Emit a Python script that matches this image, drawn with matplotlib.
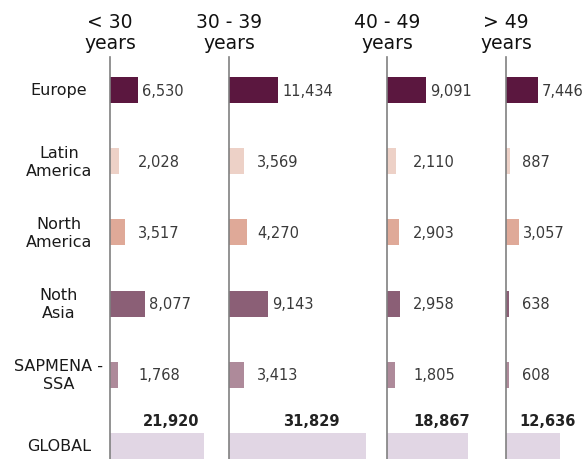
import matplotlib
matplotlib.use("Agg")
import matplotlib.pyplot as plt

plt.rcParams['font.family'] = ['DejaVu Sans']

age_groups = ["< 30\nyears", "30 - 39\nyears", "40 - 49\nyears", "> 49\nyears"]
regions = ["Europe", "Latin\nAmerica", "North\nAmerica", "Noth\nAsia", "SAPMENA -\nSSA"]
europe = [6530, 11434, 9091, 7446]
latin_america = [2028, 3569, 2110, 887]
north_america = [3517, 4270, 2903, 3057]
north_asia = [8077, 9143, 2958, 638]
sapmena_ssa = [1768, 3413, 1805, 608]
global_totals = [21920, 31829, 18867, 12636]

region_colors = ["#5b173f", "#edd1c7", "#dfa998", "#8b5f76", "#ae8a9a"]
global_color = "#e1d6e4"

W, H = 586, 460
fig = plt.figure(figsize=(W / 100, H / 100), dpi=100)

axis_px = [110, 229, 387, 506]
right_px = axis_px[1:] + [W]
top_px, bot_px = 58, 460
row0_px, row_step = 91, 71.2
units_per_px = 1 / 0.0043
min_off_px = [28, 28, 26, 16]

ymin = (top_px - row0_px) / row_step
ymax = (bot_px - row0_px) / row_step

series = [europe, latin_america, north_america, north_asia, sapmena_ssa]

for p in range(4):
    left = axis_px[p] / W
    width = (right_px[p] - axis_px[p]) / W
    ax = fig.add_axes([left, 1 - bot_px / H, width, (bot_px - top_px) / H])
    ax.set_xlim(0, (right_px[p] - axis_px[p]) * units_per_px)
    ax.set_ylim(ymax, ymin)
    ax.set_facecolor("none")
    for s in ["top", "right", "bottom"]:
        ax.spines[s].set_visible(False)
    ax.spines["left"].set_color("#808080")
    ax.spines["left"].set_linewidth(1.2)
    ax.set_xticks([])
    ax.set_yticks([])
    vals = [s[p] for s in series]
    ax.barh(range(5), vals, height=0.366, color=region_colors)
    for i, v in enumerate(vals):
        xl = max(v + 4 * units_per_px, min_off_px[p] * units_per_px)
        ax.text(xl, i, f"{v:,}", ha="left", va="center", fontsize=10.5, color="#3a3a3a")
    g = global_totals[p]
    ax.barh([5], [g], height=0.366, color=global_color, clip_on=False)
    ax.text(g / 2 + 14 * units_per_px, (421 - row0_px) / row_step, f"{g:,}",
            ha="center", va="center", fontsize=10.5, fontweight="bold", color="#222222")
    fig.text(axis_px[p] / W, 1 - 33 / H, age_groups[p], ha="center", va="center",
             fontsize=13.5, color="#111111", linespacing=1.1)

for i, r in enumerate(regions + ["GLOBAL"]):
    y = row0_px + i * row_step
    fig.text(59 / W, 1 - y / H, r, ha="center", va="center", fontsize=11.5,
             color="#1a1a1a", linespacing=1.25)

fig.savefig("out.png", dpi=100)
